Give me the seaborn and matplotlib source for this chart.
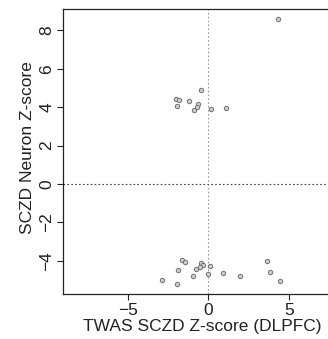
import matplotlib
matplotlib.use("Agg")
import matplotlib.pyplot as plt
import seaborn as sns
import pandas as pd

# TWAS SCZD z-score (DLPFC) vs SCZD neuron z-score
twas_z = [4.35, -0.47, -1.99, -1.82, -1.22, -1.96, -0.64, -0.72, -0.89, 0.15, 1.10,
          -1.65, -1.43, -1.86, -2.86, -1.93, -0.47, -0.31, -0.52, -0.78, 0.12,
          -0.93, 0.00, 0.93, 1.97, 3.63, 3.85, 4.43]
neuron_z = [8.58, 4.90, 4.43, 4.39, 4.32, 4.05, 4.15, 4.03, 3.85, 3.89, 3.94,
            -3.96, -4.08, -4.48, -4.98, -5.21, -4.13, -4.24, -4.32, -4.43, -4.29,
            -4.81, -4.70, -4.64, -4.81, -4.03, -4.60, -5.07]
x_ticks = [-5, 0, 5]
y_ticks = [-4, -2, 0, 2, 4, 6, 8]

df = pd.DataFrame({"twas": twas_z, "neuron": neuron_z})

sns.set_style("white")
plt.rcParams["font.family"] = ["Liberation Sans", "DejaVu Sans"]

fig = plt.figure(figsize=(3.28, 3.39), dpi=100)
ax = fig.add_axes([0.192, 0.1327, 0.885, 0.8407])

ax.axvline(0, color="#999999", linestyle=(0, (1.5, 2)), linewidth=0.8, zorder=1)
ax.axhline(0, color="#444444", linestyle=(0, (1.5, 2)), linewidth=0.8, zorder=1)

sns.scatterplot(data=df, x="twas", y="neuron", ax=ax, s=10,
                color="#cfcfcf", edgecolor="#707070", linewidth=0.7, zorder=3)

ax.set_xlim(-9.02, 9.0)
ax.set_ylim(-5.73, 9.11)
ax.set_xticks(x_ticks)
ax.set_yticks(y_ticks)
ax.set_yticklabels([str(v).replace("-", "\u2212") for v in y_ticks],
                   rotation=90, va="center")
ax.tick_params(direction="out", length=4.3, width=0.8, labelsize=12.5,
               colors="#222222", left=True, bottom=True)
ax.tick_params(axis="y", pad=2)
ax.tick_params(axis="x", pad=2)
ax.set_xlabel("TWAS SCZD Z-score (DLPFC)", fontsize=12.5, color="#222222", labelpad=1)
ax.set_ylabel("SCZD Neuron Z-score", fontsize=12.5, color="#222222", labelpad=3)
ax.xaxis.label.set_x(0.48)
ax.yaxis.label.set_y(0.514)
for s in ax.spines.values():
    s.set_color("#222222")
    s.set_linewidth(0.9)

fig.savefig("out.png", dpi=100)
